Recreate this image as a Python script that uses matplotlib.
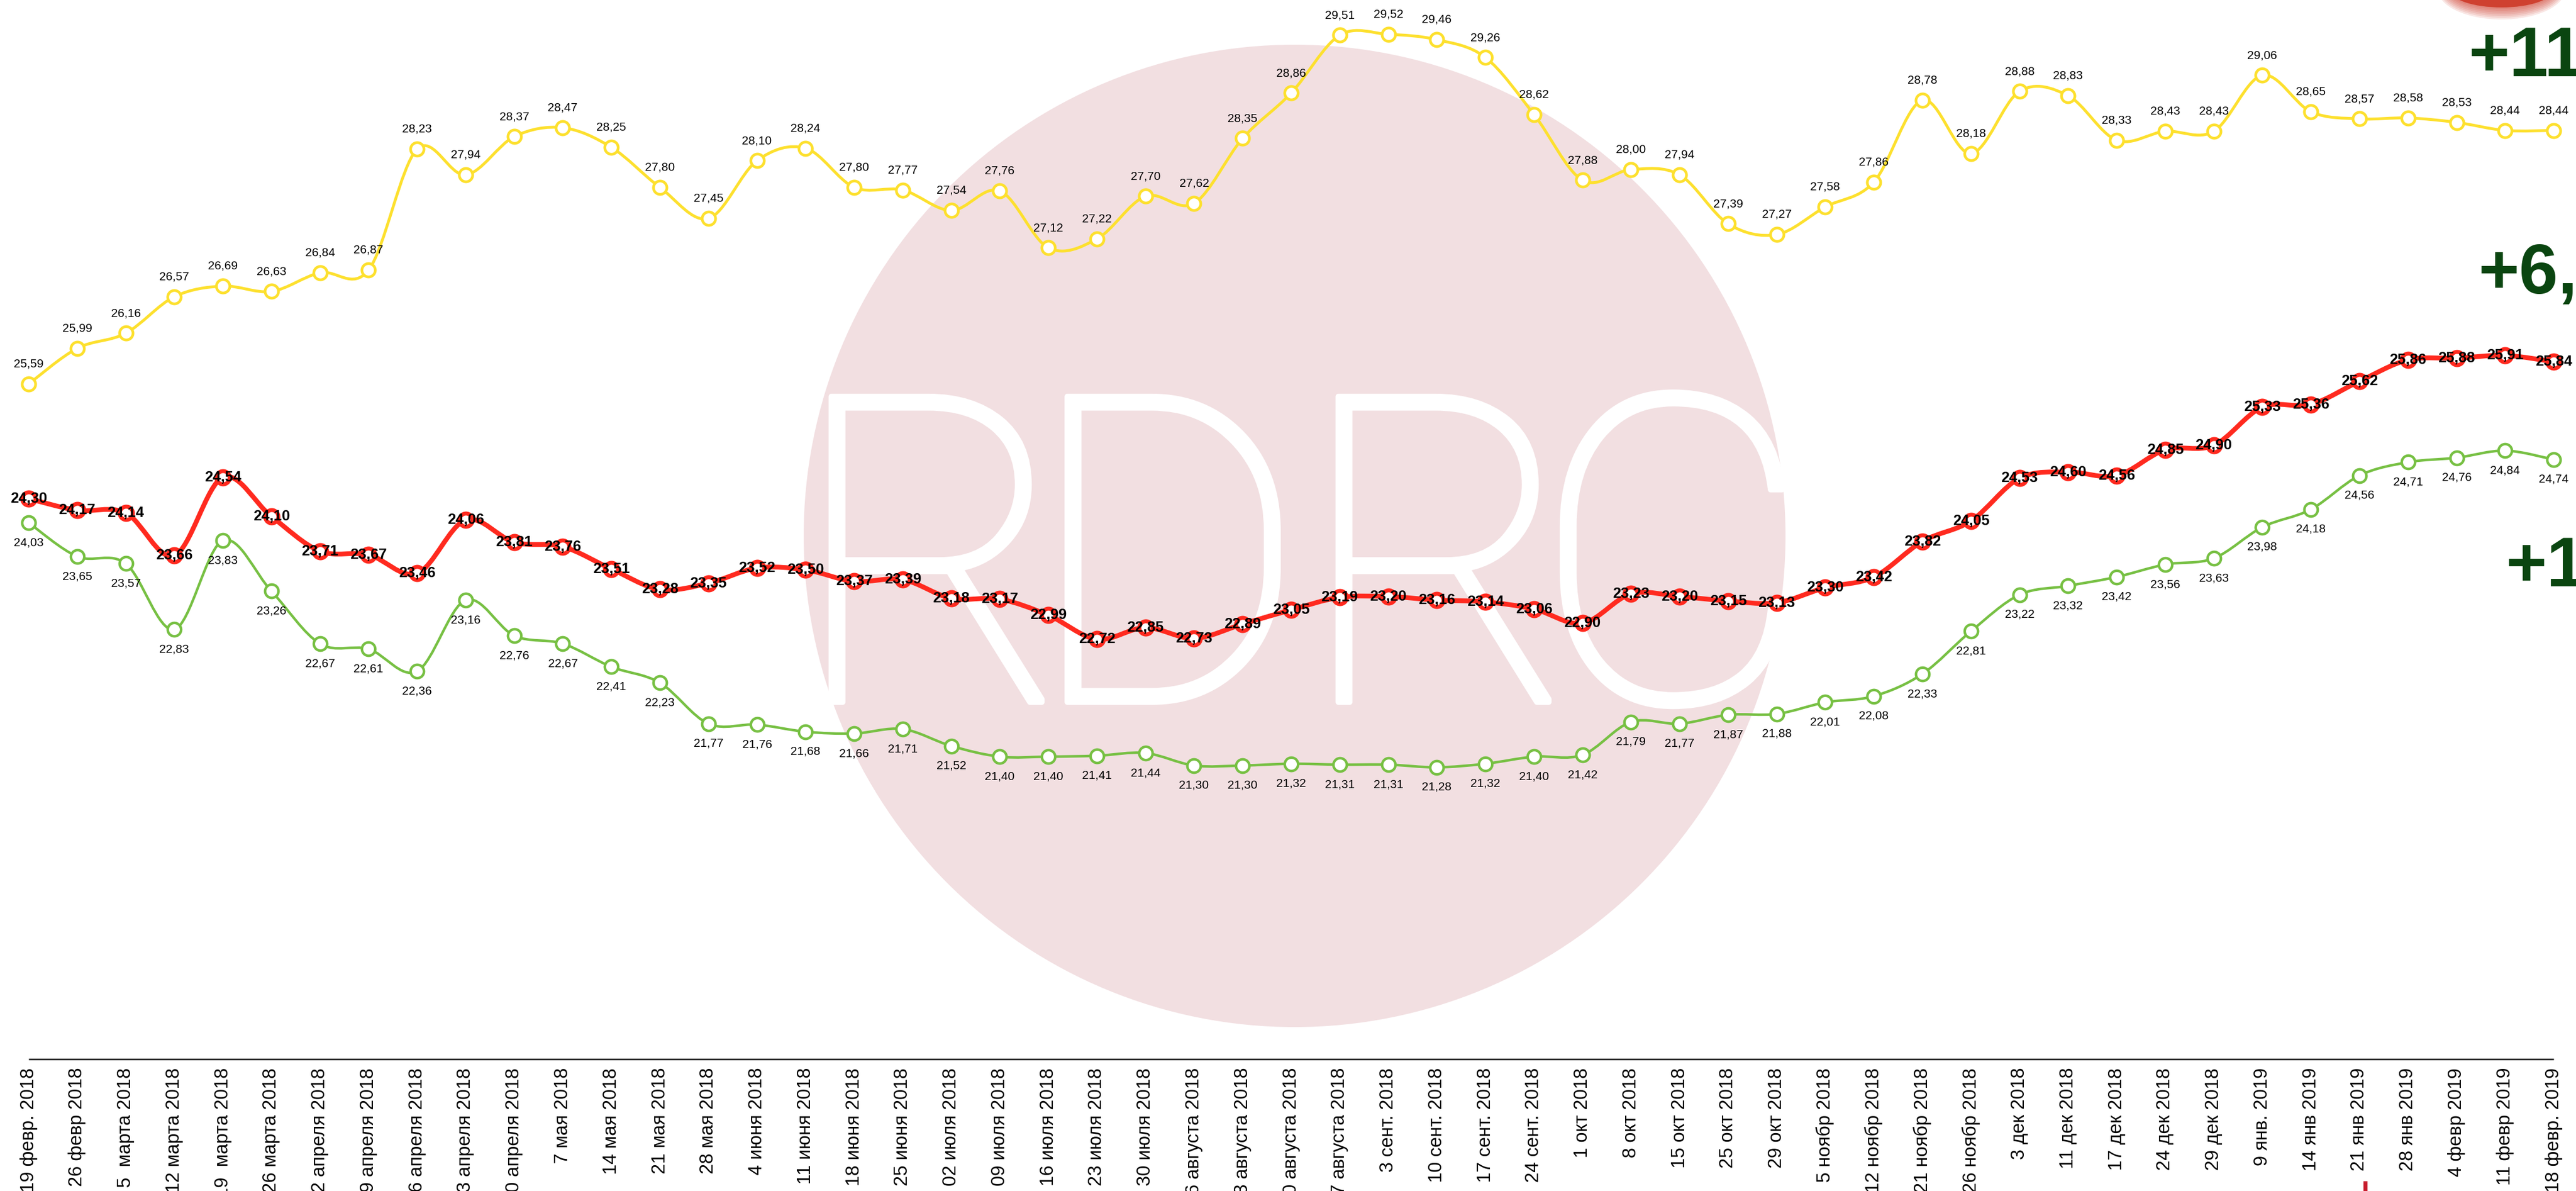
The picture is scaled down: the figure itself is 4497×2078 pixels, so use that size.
import numpy as np
import matplotlib
matplotlib.use("Agg")
import matplotlib.pyplot as plt
import matplotlib.transforms as mtransforms
import matplotlib.patheffects as pe
from matplotlib.path import Path
from matplotlib.patches import PathPatch, Circle, Ellipse, Rectangle

# --- data -------------------------------------------------------------
dates = ["19 февр. 2018", "26 февр 2018", "5  марта 2018", "12 марта 2018", "19  марта 2018",
         "26 марта 2018", "2 апреля 2018", "9 апреля 2018", "16 апреля 2018", "23 апреля 2018",
         "30 апреля 2018", "7 мая 2018", "14 мая 2018", "21 мая 2018", "28 мая 2018",
         "4 июня 2018", "11 июня 2018", "18 июня 2018", "25 июня 2018", "02 июля 2018",
         "09 июля 2018", "16 июля 2018", "23 июля 2018", "30 июля 2018", "6 августа 2018",
         "13 августа 2018", "20 августа 2018", "27 августа 2018", "3 сент. 2018", "10 сент. 2018",
         "17 сент. 2018", "24 сент. 2018", "1 окт 2018", "8 окт 2018", "15 окт 2018",
         "25 окт 2018", "29 окт 2018", "5 ноябр 2018", "12 ноябр 2018", "21 ноябр 2018",
         "26 ноябр 2018", "3 дек 2018", "11 дек 2018", "17 дек 2018", "24 дек 2018",
         "29 дек 2018", "9 янв. 2019", "14 янв 2019", "21 янв 2019", "28 янв 2019",
         "4 февр 2019", "11 февр 2019", "18 февр. 2019"]

yellow = [25.59, 25.99, 26.16, 26.57, 26.69, 26.63, 26.84, 26.87, 28.23, 27.94,
          28.37, 28.47, 28.25, 27.80, 27.45, 28.10, 28.24, 27.80, 27.77, 27.54,
          27.76, 27.12, 27.22, 27.70, 27.62, 28.35, 28.86, 29.51, 29.52, 29.46,
          29.26, 28.62, 27.88, 28.00, 27.94, 27.39, 27.27, 27.58, 27.86, 28.78,
          28.18, 28.88, 28.83, 28.33, 28.43, 28.43, 29.06, 28.65, 28.57, 28.58,
          28.53, 28.44, 28.44]

red = [24.30, 24.17, 24.14, 23.66, 24.54, 24.10, 23.71, 23.67, 23.46, 24.06,
       23.81, 23.76, 23.51, 23.28, 23.35, 23.52, 23.50, 23.37, 23.39, 23.18,
       23.17, 22.99, 22.72, 22.85, 22.73, 22.89, 23.05, 23.19, 23.20, 23.16,
       23.14, 23.06, 22.90, 23.23, 23.20, 23.15, 23.13, 23.30, 23.42, 23.82,
       24.05, 24.53, 24.60, 24.56, 24.85, 24.90, 25.33, 25.36, 25.62, 25.86,
       25.88, 25.91, 25.84]

green = [24.03, 23.65, 23.57, 22.83, 23.83, 23.26, 22.67, 22.61, 22.36, 23.16,
         22.76, 22.67, 22.41, 22.23, 21.77, 21.76, 21.68, 21.66, 21.71, 21.52,
         21.40, 21.40, 21.41, 21.44, 21.30, 21.30, 21.32, 21.31, 21.31, 21.28,
         21.32, 21.40, 21.42, 21.79, 21.77, 21.87, 21.88, 22.01, 22.08, 22.33,
         22.81, 23.22, 23.32, 23.42, 23.56, 23.63, 23.98, 24.18, 24.56, 24.71,
         24.76, 24.84, 24.74]

badges = ["+11", "+6,", "+1"]

YELLOW = "#fde02e"
RED = "#ff2a1f"
GREEN = "#77c043"
DARK_GREEN = "#0a4510"
FONT = "Liberation Sans"

# --- figure -----------------------------------------------------------
W, H = 4497, 2078
fig = plt.figure(figsize=(W / 100, H / 100), dpi=100)
ax = fig.add_axes([0, 0, 1, 1])
step = 84.77
ax.set_xlim(-50 / step, (W - 50) / step)
ax.set_ylim(16.517, 29.906)
ax.axis("off")

# pixel coords with origin top-left, for the decorations of the screenshot
px = mtransforms.Affine2D().scale(1 / W, -1 / H).translate(0, 1) + fig.transFigure

# watermark (behind the data)
ax.add_patch(Circle((2260, 935), 857, transform=px, facecolor="#f2dfe1",
                    edgecolor="none", zorder=0, clip_on=False))
for letter, lx in zip("RDRC", [1380, 1790, 2265, 2675]):
    ax.text(lx, 1225, letter, transform=px, fontsize=540, family="Roboto",
            fontweight=100, color="white", ha="left", va="baseline", zorder=1,
            clip_on=False,
            path_effects=[pe.withStroke(linewidth=7, foreground="white")])


def smooth_path(xs, ys):
    pts = np.column_stack([xs, ys]).astype(float)
    n = len(pts)
    verts, codes = [pts[0]], [Path.MOVETO]
    for i in range(n - 1):
        p0 = pts[i - 1] if i > 0 else pts[i]
        p1, p2 = pts[i], pts[i + 1]
        p3 = pts[i + 2] if i + 2 < n else pts[i + 1]
        verts += [p1 + (p2 - p0) / 6, p2 - (p3 - p1) / 6, p2]
        codes += [Path.CURVE4] * 3
    return Path(verts, codes)


x = np.arange(len(dates))

series = [
    (yellow, YELLOW, 3.6, 16.8, 3.4, 25, False),
    (green, GREEN, 3.2, 16.8, 3.2, -25, False),
    (red, RED, 6.0, 16.6, 5.0, 0, True),
]
for vals, col, lw, ms, mew, off, bold in series:
    ax.add_patch(PathPatch(smooth_path(x, vals), facecolor="none", edgecolor=col,
                           lw=lw, capstyle="round", joinstyle="round", zorder=3,
                           clip_on=False))
    ax.plot(x, vals, "o", ms=ms, mfc="white", mec=col, mew=mew, zorder=4, clip_on=False)
    for xi, v in zip(x, vals):
        ax.annotate(f"{v:.2f}".replace(".", ","), (xi, v), xytext=(0, off),
                    textcoords="offset points", ha="center", va="center",
                    fontsize=18.5 if bold else 15, family=FONT,
                    fontweight="bold" if bold else "normal", color="black",
                    zorder=5, annotation_clip=False)

# x axis line and date labels
ax.hlines(18.0, x[0], x[-1], color="#222222", lw=2, zorder=2, clip_on=False)
for xi, lab in zip(x, dates):
    ax.text(xi, 17.903, lab, rotation=90, ha="center", va="top", fontsize=23.5,
            family=FONT, color="black", zorder=5, clip_on=False)

# right-hand badges (cut off by the screenshot edge)
for txt, bx, by in zip(badges, [4310, 4327, 4375], [133, 512, 1023]):
    ax.text(bx, by, txt, transform=px, fontsize=88, family=FONT, fontweight="bold",
            color=DARK_GREEN, ha="left", va="baseline", zorder=6, clip_on=False)

# blurred red shape at the top right and a red tick at the bottom
for k in range(8):
    ax.add_patch(Ellipse((4367, -18), 180 + k * 6, 62 + k * 6, transform=px,
                         facecolor="#cf3b2a", edgecolor="none",
                         alpha=0.9 if k == 0 else 0.12, zorder=6, clip_on=False))
ax.add_patch(Rectangle((4126, 2061), 7, 20, transform=px, facecolor="#c81e2e",
                       edgecolor="none", zorder=6, clip_on=False))

fig.savefig("out.png", dpi=100, facecolor="white")
